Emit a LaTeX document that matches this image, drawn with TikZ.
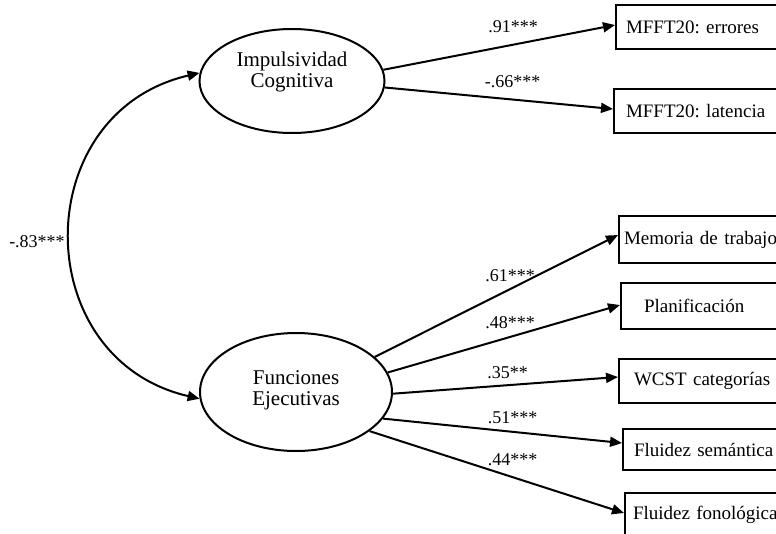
\documentclass[tikz,border=0pt]{standalone}
\usepackage{fontspec}
\setmainfont{Liberation Serif}
\frenchspacing
\usetikzlibrary{arrows.meta,calc,shapes.geometric}
\begin{document}
\begin{tikzpicture}[x=1pt,y=1pt,
  lat/.style={draw,ellipse,line width=2pt,inner sep=0pt},
  lattext/.style={align=center,font=\fontsize{21}{21}\selectfont,inner sep=0pt},
  obs/.style={draw,rectangle,line width=2pt,anchor=west,text width=180pt,align=left,font=\fontsize{19}{22}\selectfont,inner ysep=0pt},
  tip/.style={Triangle[length=12pt,width=10pt]},
  pth/.style={line width=2pt,-{Triangle[length=12pt,width=10pt]}},
  coef/.style={font=\fontsize{18}{18}\selectfont,inner sep=0pt}]
\useasboundingbox (0,0) rectangle (776,-533);
\clip (0,0) rectangle (776,-533);
\fill[white] (0,0) rectangle (776,-533);
% latent variables
\node[lat,minimum width=185pt,minimum height=104pt] (ic) at (292,-81) {};
\node[lattext] (ict) at (292,-72) {Impulsividad\\Cognitiva};
\node[lat,minimum width=192pt,minimum height=118pt] (fe) at (296,-392) {};
\node[lattext] (fet) at (296,-390) {Funciones\\Ejecutivas};
% observed variables
\node[obs,minimum height=44pt,inner xsep=10pt] (m1) at (615,-27) {MFFT20: errores};
\node[obs,minimum height=44pt,inner xsep=12pt] (m2) at (613,-111) {MFFT20: latencia};
\node[obs,minimum height=47pt,inner xsep=5pt] (b1) at (618,-239.5) {Memoria de trabajo};
\node[obs,minimum height=46pt,inner xsep=23pt] (b2) at (620,-306) {Planificación};
\node[obs,minimum height=44pt,inner xsep=15pt] (b3) at (618,-381) {WCST categorías};
\node[obs,minimum height=41pt,inner xsep=11pt] (b4) at (622,-449.5) {Fluidez semántica};
\node[obs,minimum height=44pt,inner xsep=8pt] (b5) at (624,-515) {Fluidez fonológica};
% paths
\draw[pth] (ic.7) -- ($(m1.west)+(0,2)$);
\draw[pth] (ic.-4) -- ($(m2.west)+(0,2)$);
\draw[pth] (fe.24) -- ($(b1.west)+(0,4.5)$);
\draw[pth] (fe.12) -- ($(b2.west)+(0,1)$);
\draw[pth] (fe.-1) -- ($(b3.west)+(0,4)$);
\draw[pth] (fe.-17) -- ($(b4.west)+(0,6.5)$);
\draw[pth] (fe.-28) -- ($(b5.west)+(0,2)$);
% covariance
\draw[line width=2pt,{Triangle[length=12pt,width=10pt]}-{Triangle[length=12pt,width=10pt]}]
  (ic.175) to[out=193,in=167,looseness=1.39] (fe.184);
% coefficients
\node[coef] (c1) at (513,-27) {.91***};
\node[coef] (c2) at (512.5,-81.5) {-.66***};
\node[coef] (c3) at (510,-276) {.61***};
\node[coef] (c4) at (510,-323) {.48***};
\node[coef] (c5) at (507.5,-373) {.35**};
\node[coef] (c6) at (512.5,-418) {.51***};
\node[coef] (c7) at (512.5,-460) {.44***};
\node[coef] (c8) at (37,-242) {-.83***};
\end{tikzpicture}
\end{document}
